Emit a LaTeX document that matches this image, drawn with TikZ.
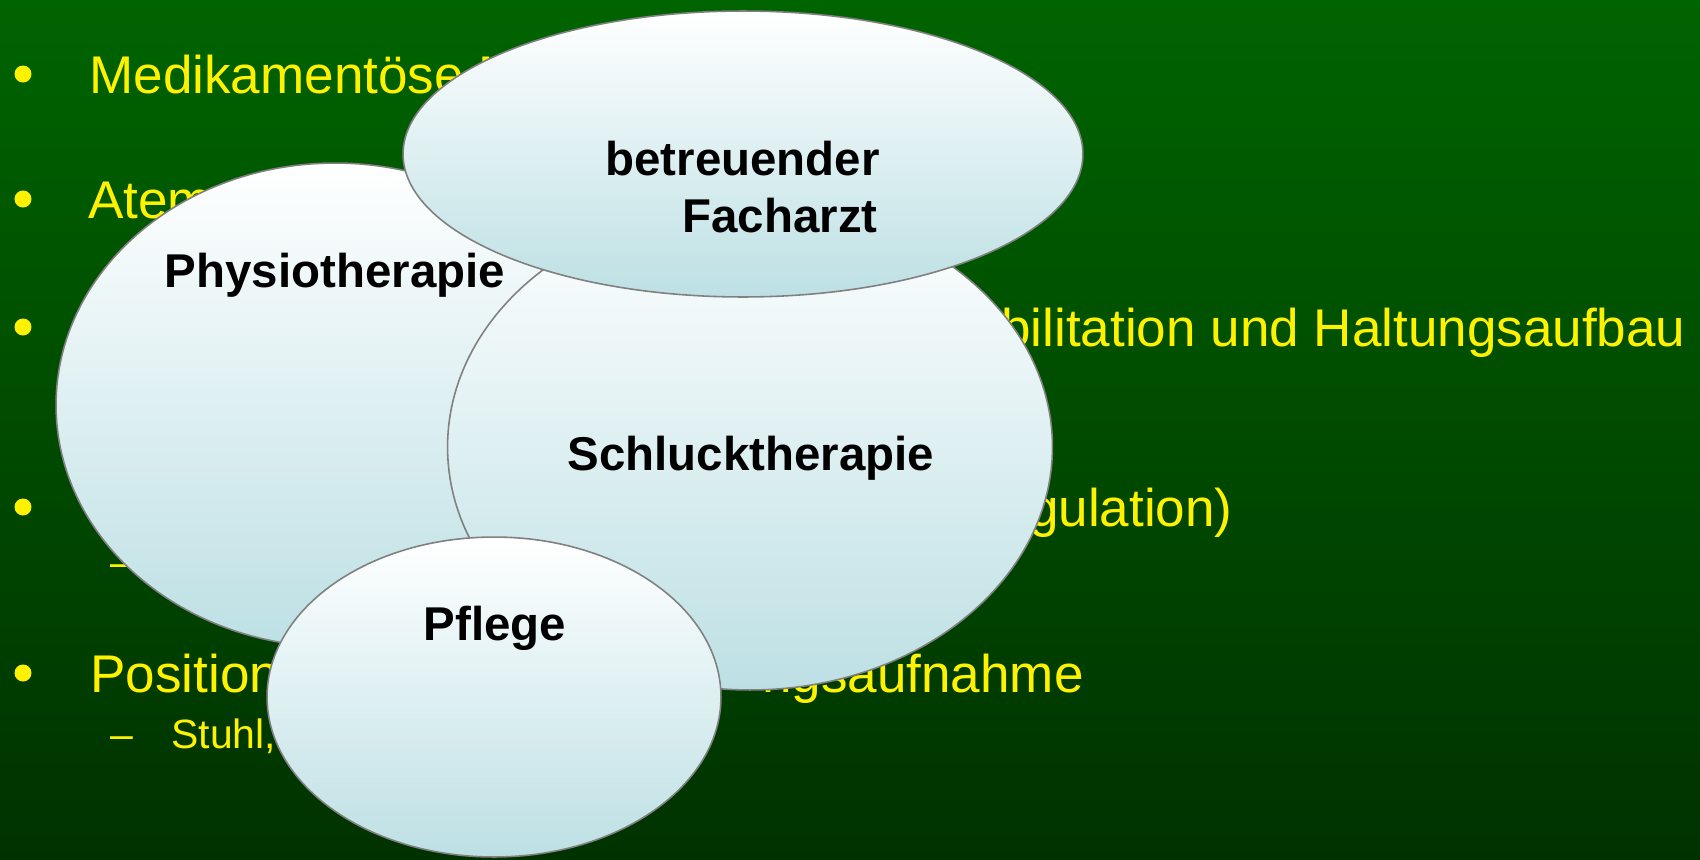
\documentclass[tikz,border=0pt]{standalone}
\usepackage{fontspec}
\setmainfont{Liberation Sans}
\usepackage{tikz}
\usetikzlibrary{shapes.geometric}

\definecolor{slidetop}{RGB}{0,100,0}
\definecolor{slidebottom}{RGB}{0,50,0}
\definecolor{ovalblue}{RGB}{189,224,228}
\definecolor{ovalline}{RGB}{128,128,128}

\begin{document}
\begin{tikzpicture}[x=0.02cm, y=-0.02cm,
  ovalbox/.style={ellipse, draw=ovalline, line width=0.9pt, inner sep=0pt, top color=white, bottom color=ovalblue},
  bullettext/.style={text=yellow, font=\fontsize{30.2}{36}\selectfont, inner sep=0pt},
  subtext/.style={text=yellow, font=\fontsize{23.3}{28}\selectfont, inner sep=0pt},
  ovaltext/.style={font=\bfseries\fontsize{27}{32.5}\selectfont, inner sep=0pt},
  bulletdot/.style={circle, fill=yellow, minimum size=0.34cm, inner sep=0pt}]
  \useasboundingbox (0,0) rectangle (1700,859);
  \shade[top color=slidetop, bottom color=slidebottom] (0,0) rectangle (1700,859);

  % bullet list behind the ovals
  \node[bulletdot] (b1) at (23,74) {};
  \node[bulletdot] (b2) at (23,199) {};
  \node[bulletdot] (b3) at (23,327) {};
  \node[bulletdot] (b4) at (23,507) {};
  \node[bulletdot] (b5) at (23,673) {};
  \node[bullettext, anchor=base west] (t1) at (89,93) {Medikamentöse M};
  \node[bullettext, anchor=base west] (t2) at (88,218) {Atem};
  \node[bullettext, anchor=base east] (t3) at (1686,346) {bilitation und Haltungsaufbau};
  \node[bullettext, anchor=base east] (t4) at (1233,526) {gulation)};
  \node[subtext, anchor=base west] (s4) at (110,576) {–};
  \node[bullettext, anchor=base west] (t5) at (90,692) {Position};
  \node[bullettext, anchor=base east] (t5b) at (1084,692) {ngsaufnahme};
  \node[subtext, anchor=base west] (s5) at (110,748) {–};
  \node[subtext, anchor=base west] (s5b) at (171,748) {Stuhl,};

  % ovals
  \node[ovalbox, minimum width=11.16cm, minimum height=9.68cm] (physio) at (335,405) {};
  \node[ovaltext, anchor=base] (physiolabel) at (335,287) {Physiotherapie};
  \node[ovalbox, minimum width=12.1cm, minimum height=9.72cm] (schluck) at (750,447) {};
  \node[ovaltext, anchor=base] (schlucklabel) at (751,470) {Schlucktherapie};
  \node[ovalbox, minimum width=13.6cm, minimum height=5.72cm] (facharzt) at (743,154) {};
  \node[ovaltext, anchor=base east] (facharztlabel) at (880,175) {betreuender};
  \node[ovaltext, anchor=base east] (facharztlabelb) at (878,232) {Facharzt};
  \node[ovalbox, minimum width=9.08cm, minimum height=6.4cm] (pflege) at (494,697) {};
  \node[ovaltext, anchor=base] (pflegelabel) at (495,640) {Pflege};
\end{tikzpicture}
\end{document}
